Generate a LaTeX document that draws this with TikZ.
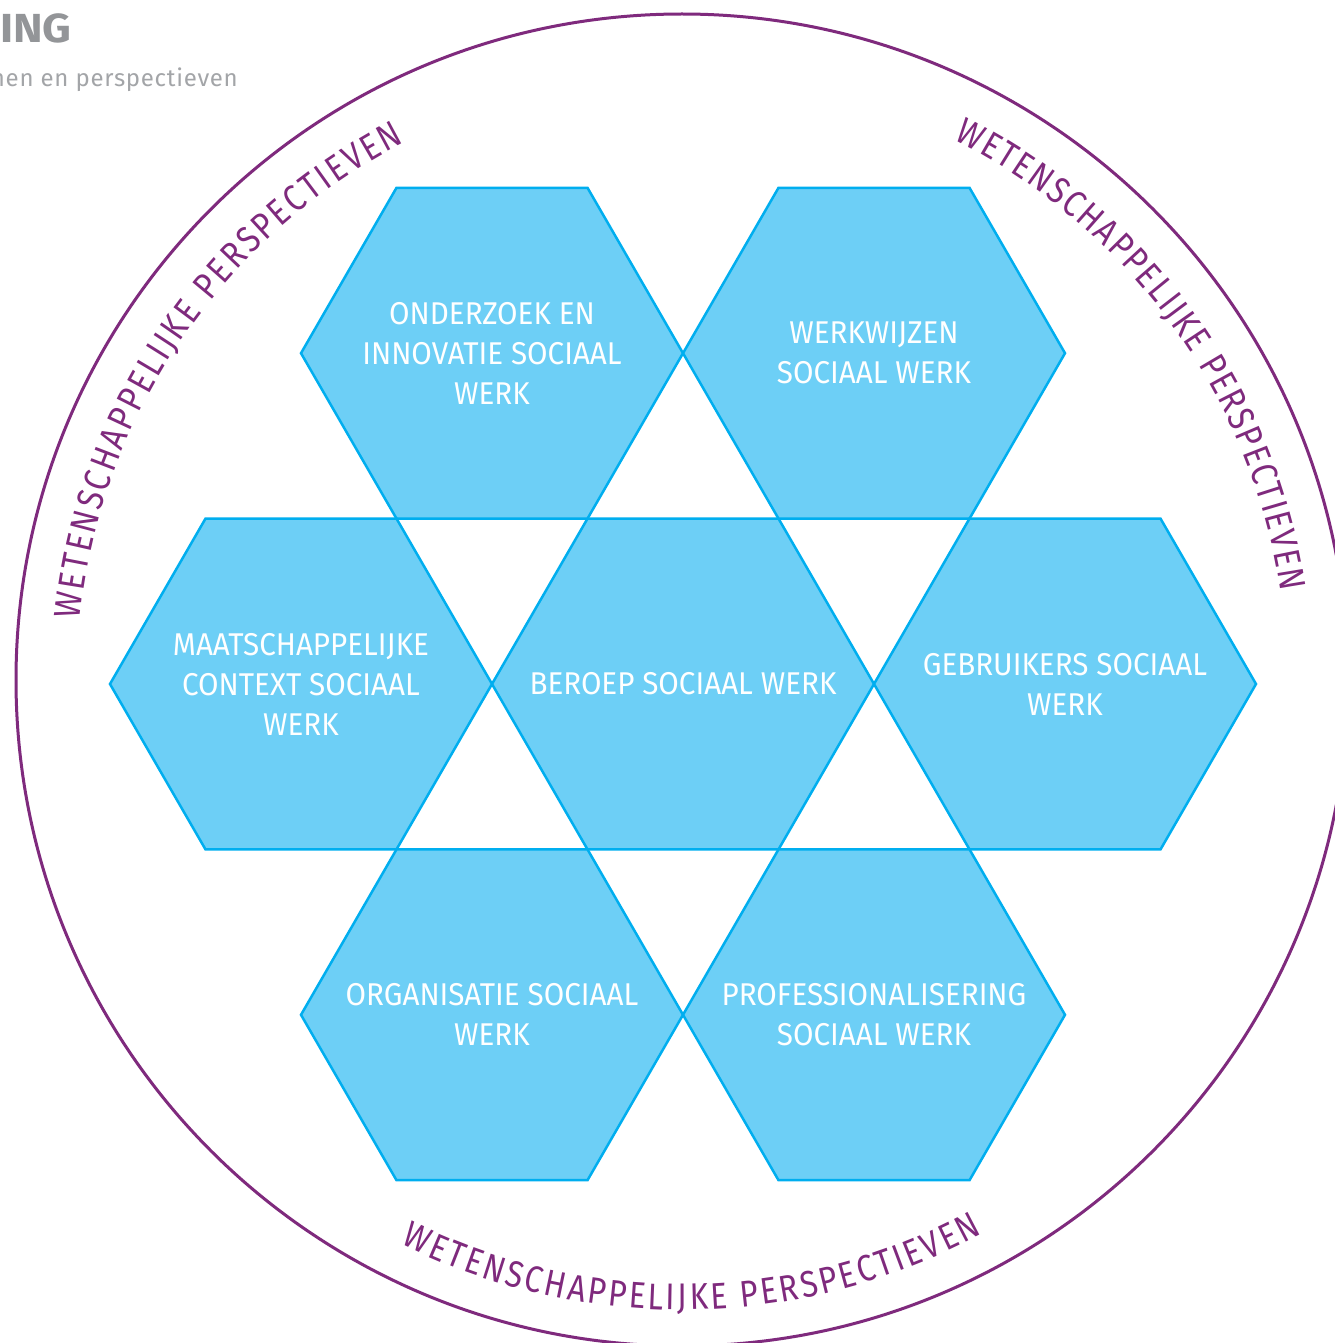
\documentclass[tikz,border=0pt]{standalone}
\usepackage{fontspec}
\setmainfont{Fira Sans}
\newfontfamily\hexfont{Fira Sans}[FakeStretch=0.94]
\newfontfamily\arcfont{Fira Sans}[FakeStretch=0.85]
\newfontfamily\headfont{Fira Sans}[FakeStretch=1.1]
\newfontfamily\subfont{Fira Sans}[LetterSpace=3]
\usetikzlibrary{decorations.text}
\definecolor{hexfill}{HTML}{6DCFF6}
\definecolor{hexline}{HTML}{00AEEF}
\definecolor{purp}{HTML}{7F2A7D}
\definecolor{headgray}{HTML}{939598}
\definecolor{subgray}{HTML}{A3A5A8}
\tikzset{
  hexshape/.style={fill=hexfill, draw=hexline, line width=2.5pt, line join=miter},
  hextext/.style={font=\hexfont\fontsize{31.5}{40}\selectfont, text=white, align=center, inner sep=0pt},
  headtext/.style={font=\headfont\bfseries\fontsize{40.6}{48}\selectfont, text=headgray, inner sep=0pt},
  subtext/.style={font=\subfont\fontsize{24}{30}\selectfont, text=subgray, inner sep=0pt},
  ringline/.style={draw=purp, line width=3pt},
  arctext/.style={decorate, decoration={text along path,
      text={|\arcfont\fontsize{37}{44}\selectfont\color{purp}|WETENSCHAPPELIJKE PERSPECTIEVEN},
      text align={fit to path}}}
}
\begin{document}
\begin{tikzpicture}[x=1pt,y=1pt]
\useasboundingbox (0,0) rectangle (1334,-1343);
\fill[white] (0,0) rectangle (1334,-1343);
\coordinate (c) at (682,-680);
% heading fragments
\node[headtext, anchor=base east] (head) at (72,-43) {LING};
\node[subtext, anchor=base east] (sub) at (238,-87) {nen en perspectieven};
% ring
\draw[ringline] (c) circle[radius=666];
% hexagons
\foreach \cx/\cy in {683/684, 492/353.2, 874/353.2, 301/684, 1065/684, 492/1014.8, 874/1014.8}{
  \draw[hexshape] (\cx+191,-\cy) -- ++(120:191) -- ++(180:191) -- ++(240:191) -- ++(300:191) -- ++(0:191) -- cycle;
}
% hexagon labels
\node[hextext] (onderzoek) at (492,-353.2) {ONDERZOEK EN\\INNOVATIE SOCIAAL\\WERK};
\node[hextext] (werkwijzen) at (874,-353.2) {WERKWIJZEN\\SOCIAAL WERK};
\node[hextext] (context) at (301,-684) {MAATSCHAPPELIJKE\\CONTEXT SOCIAAL\\WERK};
\node[hextext] (beroep) at (683,-684) {BEROEP SOCIAAL WERK};
\node[hextext] (gebruikers) at (1065,-684) {GEBRUIKERS SOCIAAL\\WERK};
\node[hextext] (organisatie) at (492,-1014.8) {ORGANISATIE SOCIAAL\\WERK};
\node[hextext] (prof) at (874,-1014.8) {PROFESSIONALISERING\\SOCIAAL WERK};
% curved texts
\path[arctext] ([shift={(174.3:605)}]c) arc[start angle=174.3, end angle=117.3, radius=605];
\path[arctext] ([shift={(63.3:605)}]c) arc[start angle=63.3, end angle=8.4, radius=605];
\path[arctext] ([shift={(243.5:630)}]c) arc[start angle=243.5, end angle=298.5, radius=630];
\end{tikzpicture}
\end{document}
